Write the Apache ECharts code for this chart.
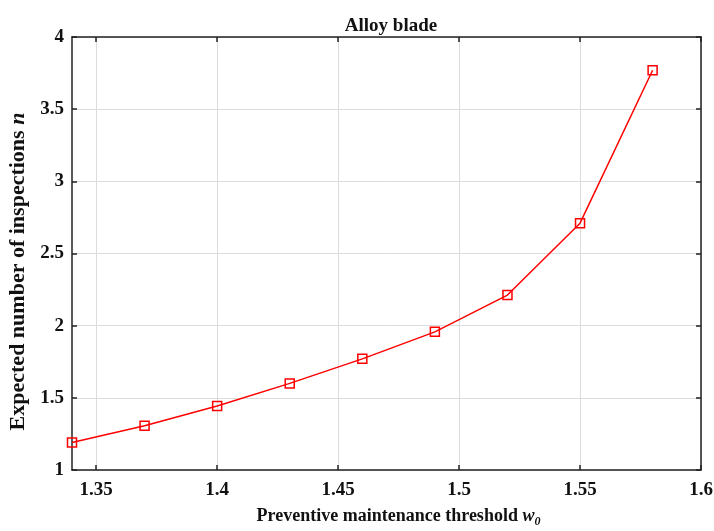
<!DOCTYPE html>
<html>
<head>
<meta charset="utf-8">
<script src="https://cdn.jsdelivr.net/npm/echarts@6/dist/echarts.min.js"></script>
<style>html,body{margin:0;padding:0;background:#fff;}#c{width:714px;height:531px;}</style>
</head>
<body>
<div id="c"></div>
<script>
const thresholds = [1.34, 1.37, 1.40, 1.43, 1.46, 1.49, 1.52, 1.55, 1.58];
const inspections = [1.19, 1.306, 1.443, 1.60, 1.77, 1.957, 2.212, 2.71, 3.77];
const xTicks = [1.35, 1.4, 1.45, 1.5, 1.55, 1.6];
const yTicks = [1, 1.5, 2, 2.5, 3, 3.5, 4];

const FONT = '"Liberation Serif", "Times New Roman", serif';
const chart = echarts.init(document.getElementById('c'));
const axisLine = {show: true, lineStyle: {color: '#222', width: 1.5}};
const tick = {show: true, inside: true, length: 5, lineStyle: {color: '#222', width: 1.5}};
const split = {show: true, lineStyle: {color: '#dcdcdc', width: 1}};
const lbl = {fontFamily: FONT, fontWeight: 'bold', fontSize: 19, color: '#111'};

chart.setOption({
  animation: false,
  backgroundColor: '#fff',
  title: {
    text: 'Alloy blade', left: 386, top: 12, textAlign: 'center',
    textStyle: {fontFamily: FONT, fontWeight: 'bold', fontSize: 19, color: '#111'}
  },
  grid: {left: 72, right: 13, top: 37, bottom: 61, containLabel: false, outerBoundsMode: 'none'},
  xAxis: [{
    type: 'value', min: 1.34, max: 1.6, position: 'bottom',
    axisLine: axisLine,
    axisTick: Object.assign({customValues: xTicks}, tick),
    splitLine: split,
    axisLabel: Object.assign({customValues: xTicks, margin: 11, formatter: v => String(+v.toFixed(2))}, lbl),
    name: '{b|Preventive maintenance threshold }{i|w}{s|0}',
    nameLocation: 'middle', nameGap: 34,
    nameTextStyle: {
      padding: [0, 0, 0, 24],
      rich: {
        b: {fontFamily: FONT, fontWeight: 'bold', fontSize: 18, color: '#111'},
        i: {fontFamily: FONT, fontWeight: 'bold', fontStyle: 'italic', fontSize: 18, color: '#111'},
        s: {fontFamily: FONT, fontWeight: 'bold', fontStyle: 'italic', fontSize: 12, color: '#111', verticalAlign: 'bottom', padding: [12, 0, 0, 0]}
      }
    }
  }, {
    type: 'value', min: 1.34, max: 1.6, position: 'top',
    axisLine: axisLine,
    axisTick: Object.assign({customValues: xTicks}, tick),
    splitLine: {show: false}, axisLabel: {show: false}
  }],
  yAxis: [{
    type: 'value', min: 1, max: 4, interval: 0.5, position: 'left',
    axisLine: axisLine, axisTick: tick, splitLine: split,
    axisLabel: Object.assign({margin: 8}, lbl),
    name: '{b|Expected number of inspections }{i|n}',
    nameLocation: 'middle', nameGap: 38,
    nameTextStyle: {
      padding: [0, 36, 0, 0],
      rich: {
        b: {fontFamily: FONT, fontWeight: 'bold', fontSize: 22, color: '#111'},
        i: {fontFamily: FONT, fontWeight: 'bold', fontStyle: 'italic', fontSize: 22, color: '#111'}
      }
    }
  }, {
    type: 'value', min: 1, max: 4, interval: 0.5, position: 'right',
    axisLine: axisLine, axisTick: tick, splitLine: {show: false}, axisLabel: {show: false}
  }],
  series: [{
    type: 'line',
    data: thresholds.map((x, i) => [x, inspections[i]]),
    symbol: 'rect', symbolSize: 9, showAllSymbol: true,
    lineStyle: {color: '#ff0000', width: 1.5},
    itemStyle: {color: 'rgba(255,255,255,0)', borderColor: '#ff0000', borderWidth: 1.5},
    emphasis: {disabled: true},
    z: 5
  }]
});
</script>
</body>
</html>
